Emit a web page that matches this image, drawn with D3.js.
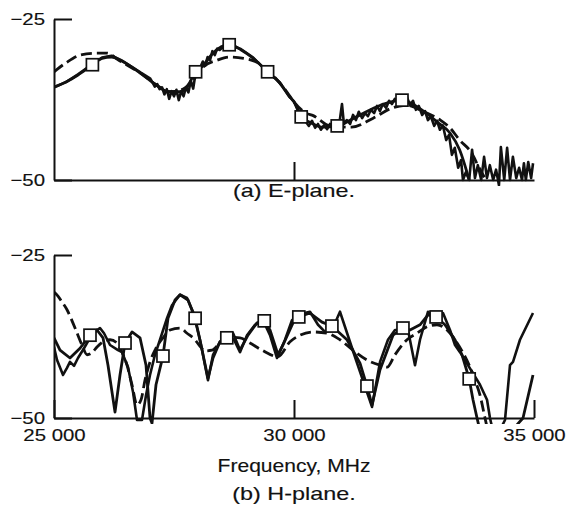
<!DOCTYPE html>
<html>
<head>
<meta charset="utf-8">
<script src="https://cdn.jsdelivr.net/npm/d3@7"></script>
<style>
  body { margin: 0; background: #fff; }
  text { font-family: "Liberation Sans", Arial, sans-serif; fill: #111; stroke: #111; stroke-width: 0.15px; }
</style>
</head>
<body>
<div id="chart"></div>
<script>
// ---- (a) E-plane ----
// smooth predicted curve, drawn solid, squares sit on it
const eSolid = [[25000,-35.6],[25250,-34.8],[25500,-33.7],[25800,-32.1],[26000,-31.1],[26200,-30.9],
  [26400,-31.5],[26800,-33.4],[27100,-35.1],[27400,-36.3],[27650,-36.3],[27800,-35.2],[27950,-33.2],
  [28100,-32.3],[28300,-30.4],[28650,-29.0],[28900,-29.8],[29150,-31.1],[29450,-33.2],[29700,-34.9],
  [29900,-37.0],[30000,-37.9],[30150,-40.2],[30350,-41.1],[30600,-41.8],[30900,-41.6],[31300,-40.2],
  [31800,-38.4],[32250,-37.6],[32600,-38.8],[33000,-41.1],[33250,-42.7],[33450,-45.3],[33650,-50.0]];
const eSquares = [[25800,-32.1],[27950,-33.2],[28650,-29.0],[29450,-33.2],[30150,-40.2],[30900,-41.6],[32250,-37.6]];
// dashed curve
const eDashed = [[25000,-33.2],[25250,-31.8],[25550,-30.6],[25900,-30.3],[26100,-30.3],[26350,-31.4],
  [26800,-33.4],[27150,-35.3],[27400,-36.3],[27650,-36.0],[27900,-34.5],[28100,-32.5],[28400,-31.4],
  [28650,-30.9],[28950,-31.1],[29250,-31.8],[29450,-32.9],[29700,-34.9],[29850,-36.3],[30000,-37.9],
  [30250,-39.6],[30400,-40.0],[30750,-41.6],[31200,-41.8],[31650,-40.4],[32050,-38.8],[32350,-38.4],
  [32700,-39.4],[33050,-40.7],[33250,-41.9],[33450,-43.8],[33700,-45.8],[33850,-48.0],[34000,-50.0]];
// measured (noisy) curve
const eMeasured = [[25000,-35.6],[25250,-34.8],[25500,-33.6],[25800,-32.0],[26000,-31.0],[26200,-30.7],
  [26400,-31.4],[26800,-33.3],[27000,-34.2],[27050,-34.8],[27100,-35.5],[27150,-35.1],[27200,-35.9],
  [27250,-35.6],[27300,-36.7],[27350,-35.9],[27400,-37.4],[27450,-36.2],[27500,-37.0],[27550,-36.0],
  [27600,-37.6],[27650,-36.2],[27700,-37.0],[27750,-35.6],[27800,-36.4],[27850,-34.6],[27900,-35.8],
  [27950,-33.4],[28000,-33.0],[28050,-32.5],[28100,-31.6],[28150,-32.2],[28200,-30.9],[28250,-31.4],
  [28300,-30.0],[28350,-30.6],[28400,-29.6],[28450,-29.8],[28550,-29.2],[28650,-28.9],[28900,-29.7],
  [29150,-31.0],[29450,-33.2],[29700,-34.8],[29900,-37.0],[30000,-37.8],[30150,-40.1],
  [30250,-41.0],[30310,-41.6],[30375,-40.8],[30440,-41.9],[30500,-41.3],[30560,-42.2],[30625,-41.5],
  [30690,-42.1],[30750,-41.3],[30810,-41.8],[30875,-41.0],[30940,-41.5],[31000,-38.2],[31040,-41.3],
  [31100,-40.7],[31170,-41.3],[31230,-39.9],[31290,-40.7],[31350,-39.4],[31420,-40.4],[31480,-39.6],
  [31540,-40.1],[31600,-39.1],[31670,-39.6],[31730,-38.5],[31790,-39.3],[31850,-38.2],[31920,-38.8],
  [31980,-37.7],[32040,-38.2],[32100,-37.4],[32170,-37.9],[32230,-37.0],[32290,-37.4],[32350,-37.1],
  [32420,-38.4],[32480,-37.7],[32540,-39.1],[32600,-38.5],[32670,-39.9],[32730,-39.3],[32790,-40.7],
  [32850,-40.1],[32920,-41.6],[32980,-40.8],[33040,-42.2],[33100,-41.5],[33170,-43.8],[33230,-43.0],
  [33290,-46.1],[33350,-45.0],[33420,-48.1],[33480,-46.9],[33520,-50.0],[33580,-48.8],[33650,-50.0],
  [33710,-45.3],[33770,-49.7],[33830,-47.7],[33900,-50.0],[33960,-46.4],[34020,-49.7],[34080,-47.7],
  [34150,-50.0],[34210,-48.4],[34270,-50.8],[34310,-44.9],[34380,-50.0],[34440,-45.0],[34500,-50.0],
  [34560,-46.4],[34630,-49.7],[34690,-48.1],[34750,-50.0],[34790,-47.4],[34830,-50.0],[34880,-47.2],
  [34940,-49.7],[34980,-47.4]];

// ---- (b) H-plane ----
const hSolid = [[25000,-37.7],[25125,-39.6],[25333,-40.8],[25542,-39.3],[25750,-37.3],[25896,-36.5],
  [26021,-37.7],[26125,-41.9],[26271,-49.1],[26375,-43.4],[26480,-38.5],[26625,-36.8],[26792,-37.7],
  [26917,-41.9],[27000,-50.0],[27042,-50.8],[27125,-44.9],[27270,-40.5],[27375,-34.7],[27521,-31.9],
  [27625,-31.1],[27792,-31.9],[27940,-34.7],[28063,-38.8],[28208,-43.9],[28313,-40.8],[28458,-38.3],
  [28600,-37.7],[28729,-37.0],[28875,-39.6],[29042,-37.3],[29229,-35.4],[29380,-35.1],[29500,-36.5],
  [29667,-40.3],[29771,-38.8],[29979,-35.4],[30100,-34.5],[30333,-33.9],[30583,-35.3],[30790,-35.9],
  [31104,-38.0],[31375,-41.6],[31520,-45.1],[31625,-48.0],[31792,-42.6],[32063,-37.3],[32270,-36.2],
  [32417,-36.5],[32625,-35.7],[32792,-34.2],[32960,-34.5],[33146,-35.7],[33354,-38.0],[33500,-40.3],
  [33650,-44.0],[33729,-47.2],[33813,-50.0],[33896,-52.6],[34292,-54.0],[34771,-50.0],[34979,-43.4]];
const hSquares = [[25750,-37.3],[26480,-38.5],[27270,-40.5],[27940,-34.7],[28600,-37.7],[29380,-35.1],
  [30100,-34.5],[30790,-35.9],[31520,-45.1],[32270,-36.2],[32960,-34.5],[33650,-44.0]];
const hDashed = [[25000,-30.7],[25083,-31.3],[25167,-32.2],[25271,-33.4],[25438,-36.2],[25583,-38.8],
  [25688,-40.3],[25792,-40.0],[25896,-39.1],[26021,-38.3],[26167,-38.0],[26313,-38.5],[26417,-39.9],
  [26521,-41.9],[26625,-44.9],[26729,-48.0],[26813,-47.2],[26896,-44.2],[27000,-41.4],[27125,-39.3],
  [27271,-37.7],[27417,-36.5],[27625,-36.2],[27771,-37.0],[27938,-38.0],[28042,-39.0],[28146,-39.7],
  [28292,-39.6],[28458,-38.5],[28667,-37.6],[28875,-37.7],[29083,-38.5],[29333,-39.6],[29667,-40.6],
  [29917,-38.3],[30125,-37.3],[30396,-36.8],[30688,-37.0],[30958,-38.0],[31229,-39.6],[31521,-41.1],
  [31792,-41.9],[31938,-42.2],[32104,-40.3],[32354,-38.0],[32563,-37.0],[32771,-36.0],[32979,-35.7],
  [33188,-36.5],[33354,-38.0],[33521,-40.0],[33667,-42.2],[33771,-44.2],[33875,-46.5],[33979,-50.0],
  [34083,-53.4]];
const hMeasured = [[25000,-39.1],[25063,-41.1],[25188,-43.4],[25271,-42.3],[25333,-41.4],[25417,-42.0],
  [25500,-40.8],[25625,-39.3],[25750,-37.7],[25896,-36.5],[25958,-36.2],[26042,-37.0],[26167,-38.8],
  [26333,-39.6],[26417,-39.9],[26542,-42.2],[26646,-46.0],[26729,-50.3],[26833,-50.3],[26917,-46.5],
  [27000,-43.4],[27104,-40.3],[27208,-38.0],[27354,-34.7],[27458,-32.7],[27625,-31.1],[27771,-31.6],
  [27896,-33.7],[28042,-38.0],[28146,-41.9],[28208,-44.2],[28313,-40.3],[28458,-38.3],[28625,-37.6],
  [28750,-38.0],[28875,-39.9],[29021,-37.3],[29188,-35.7],[29354,-35.0],[29500,-37.3],[29646,-40.8],
  [29813,-38.0],[29958,-35.0],[30104,-34.1],[30333,-33.7],[30500,-35.7],[30646,-36.8],[30792,-36.5],
  [30958,-33.7],[31292,-41.1],[31625,-48.3],[31792,-41.4],[31958,-38.0],[32104,-36.5],[32375,-36.5],
  [32521,-41.9],[32625,-38.0],[32792,-33.7],[32958,-34.7],[33104,-33.9],[33250,-36.5],[33354,-38.8],
  [33458,-39.9],[33583,-41.4],[33708,-42.9],[33875,-44.9],[34021,-47.2],[34083,-50.0],[34188,-53.4],
  [34396,-50.3],[34500,-41.9],[34563,-41.4],[34708,-38.0],[34979,-33.9]];

const xTicks = [25000, 30000, 35000];
const yTicks = [-25, -50];

const width = 569, height = 520;
const stretch = 1.2;   // the scanned lettering is wide
const svg = d3.select("#chart").append("svg")
  .attr("width", width).attr("height", height);

const x = d3.scaleLinear().domain([25000, 35000]).range([54, 534]);
const fmt = d3.formatLocale({decimal: ".", thousands: " ", grouping: [3], currency: ["", ""]}).format(",");

function label(tx, ty, size, sx, str) {
  svg.append("text")
    .attr("transform", "translate(" + tx + "," + ty + ") scale(" + sx + ",1)")
    .attr("text-anchor", "middle")
    .style("font-size", size + "px")
    .text(str);
}

function panel(top, bottom, id, solid, squares, dashed, measured, showX) {
  const y = d3.scaleLinear().domain([-50, -25]).range([bottom, top]);
  const g = svg.append("g");

  g.append("clipPath").attr("id", id)
    .append("rect").attr("x", 54).attr("y", top - 5).attr("width", 482).attr("height", bottom - top + 11);

  const line = d3.line().x(d => x(d[0])).y(d => y(d[1]));
  const smooth = d3.line().x(d => x(d[0])).y(d => y(d[1])).curve(d3.curveMonotoneX);
  const plot = g.append("g").attr("clip-path", "url(#" + id + ")");

  plot.append("path").datum(dashed)
    .attr("d", smooth).attr("fill", "none").attr("stroke", "#111")
    .attr("stroke-width", 2.8).attr("stroke-dasharray", "11,5");
  plot.append("path").datum(solid)
    .attr("d", id == "clipA" ? smooth : line).attr("fill", "none").attr("stroke", "#111")
    .attr("stroke-width", 2.8).attr("stroke-linejoin", "round");
  plot.append("path").datum(measured)
    .attr("d", line).attr("fill", "none").attr("stroke", "#111")
    .attr("stroke-width", 2.6).attr("stroke-linejoin", "round");

  plot.selectAll(".sq").data(squares).enter().append("rect")
    .attr("x", d => x(d[0]) - 6).attr("y", d => y(d[1]) - 6)
    .attr("width", 12).attr("height", 12)
    .attr("fill", "#fff").attr("stroke", "#111").attr("stroke-width", 1.7);

  // axes
  const yAxis = d3.axisLeft(y).tickValues(yTicks).tickSize(-18).tickSizeOuter(0)
    .tickPadding(9).tickFormat(d3.format("d"));
  const ya = g.append("g").attr("transform", "translate(54,0)").call(yAxis);
  const xAxis = d3.axisBottom(x).tickValues(showX ? xTicks : [30000]).tickSize(-18).tickSizeOuter(0)
    .tickPadding(11).tickFormat(showX ? fmt : "");
  const xa = g.append("g").attr("transform", "translate(0," + bottom + ")").call(xAxis);

  [ya, xa].forEach(a => {
    a.selectAll("path, line").attr("stroke", "#111").attr("stroke-width", 2);
    a.selectAll("text").style("font-size", "17px").style("fill", "#111")
      .attr("transform", "scale(" + stretch + ",1)");
  });
  ya.selectAll("text").attr("x", -9 / stretch);
}

panel(19, 180, "clipA", eSolid, eSquares, eDashed, eMeasured, false);
panel(255, 418, "clipB", hSolid, hSquares, hDashed, hMeasured, true);

label(294, 197, 18, 1.3, "(a) E-plane.");
label(294, 472, 18, 1.17, "Frequency, MHz");
label(294, 500, 18, 1.3, "(b) H-plane.");
</script>
</body>
</html>
